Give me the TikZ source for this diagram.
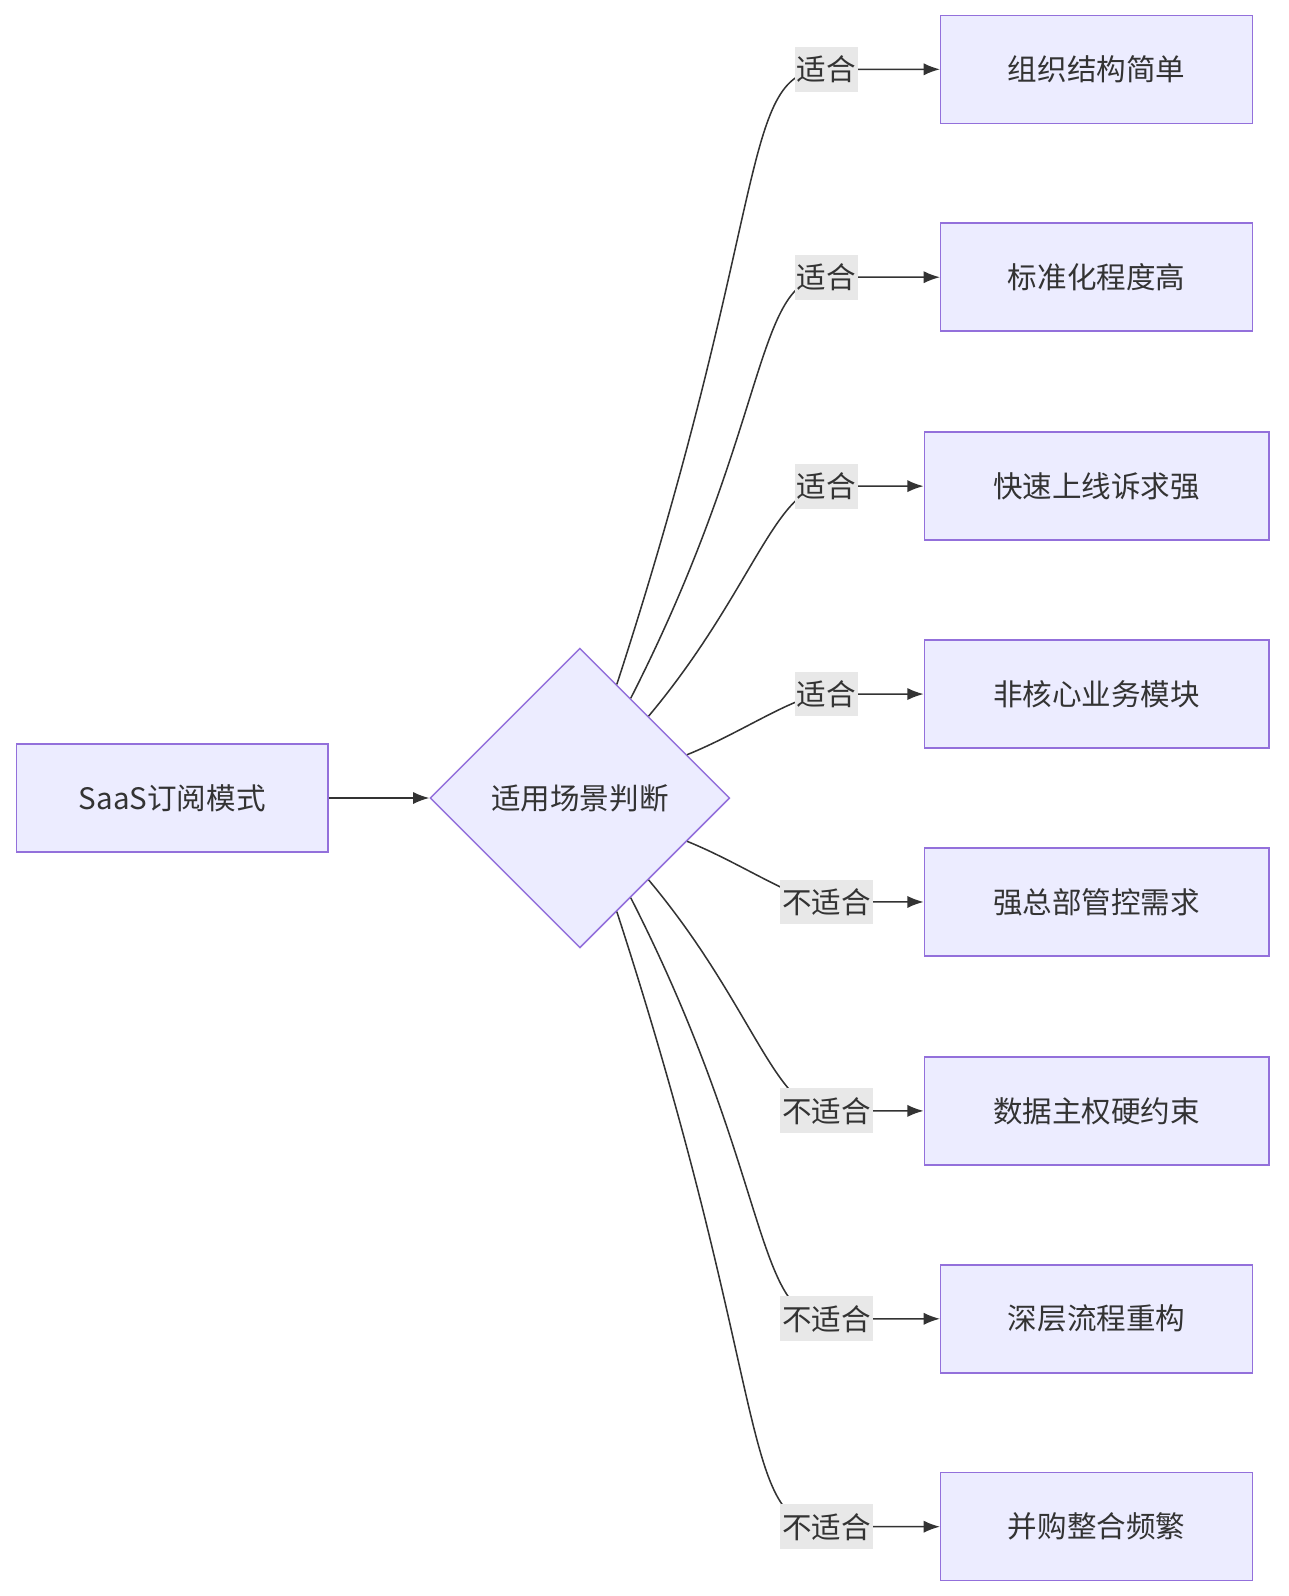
\documentclass[tikz,border=0pt]{standalone}
\usepackage{fontspec}
\setmainfont{Noto Sans CJK SC}
\usetikzlibrary{shapes.geometric,arrows.meta}
\definecolor{boxfill}{HTML}{ECECFF}
\definecolor{boxline}{HTML}{9370DB}
\definecolor{lblfill}{HTML}{E8E8E8}
\definecolor{ink}{HTML}{333333}
\begin{document}
\begin{tikzpicture}[x=1pt,y=1pt,
     block/.style = {draw=boxline, fill=boxfill, line width=1.5pt, rectangle,
      minimum width=306pt, minimum height=106pt, text=ink},
     wide/.style = {block, minimum width=338pt},
     decide/.style = {draw=boxline, fill=boxfill, line width=1.5pt, diamond, aspect=1,
      minimum size=294pt, inner sep=0pt, text=ink},
     lbl/.style = {fill=lblfill, inner sep=2pt, text=ink, minimum height=44pt},
     arrow/.style = {draw=ink, line width=1.5pt, -{Latex[length=16pt,width=12pt]}}
    ]
    \useasboundingbox (0,0) rectangle (1264,-1566);
    \fontsize{29}{34}\selectfont

    \node [block] (saas) at (169,-783) {SaaS订阅模式};
    \node [decide] (judge) at (569,-783) {适用场景判断};

    \node [block] (org) at (1076,-68) {组织结构简单};
    \node [block] (std) at (1076,-272) {标准化程度高};
    \node [wide] (fast) at (1076,-477) {快速上线诉求强};
    \node [wide] (noncore) at (1076,-681) {非核心业务模块};
    \node [wide] (hq) at (1076,-885) {强总部管控需求};
    \node [wide] (data) at (1076,-1090) {数据主权硬约束};
    \node [block] (deep) at (1076,-1294) {深层流程重构};
    \node [block] (merge) at (1076,-1498) {并购整合频繁};

    \draw[arrow] (saas) -- (judge);
    \draw[arrow] (judge) to[out=72,in=180,out looseness=2,in looseness=0.35] (811,-68) -- (org);
    \draw[arrow] (judge) to[out=63,in=180,out looseness=1.7,in looseness=0.4] (811,-272) -- (std);
    \draw[arrow] (judge) to[out=50,in=180,out looseness=1.4,in looseness=0.45] (811,-477) -- (fast);
    \draw[arrow] (judge) to[out=22,in=180,out looseness=1,in looseness=0.5] (811,-681) -- (noncore);
    \draw[arrow] (judge) to[out=-22,in=180,out looseness=1,in looseness=0.5] (811,-885) -- (hq);
    \draw[arrow] (judge) to[out=-50,in=180,out looseness=1.4,in looseness=0.45] (811,-1090) -- (data);
    \draw[arrow] (judge) to[out=-63,in=180,out looseness=1.7,in looseness=0.4] (811,-1294) -- (deep);
    \draw[arrow] (judge) to[out=-72,in=180,out looseness=2,in looseness=0.35] (811,-1498) -- (merge);

    \node [lbl] (l1) at (811,-68) {适合};
    \node [lbl] (l2) at (811,-272) {适合};
    \node [lbl] (l3) at (811,-477) {适合};
    \node [lbl] (l4) at (811,-681) {适合};
    \node [lbl] (l5) at (811,-885) {不适合};
    \node [lbl] (l6) at (811,-1090) {不适合};
    \node [lbl] (l7) at (811,-1294) {不适合};
    \node [lbl] (l8) at (811,-1498) {不适合};
\end{tikzpicture}
\end{document}
